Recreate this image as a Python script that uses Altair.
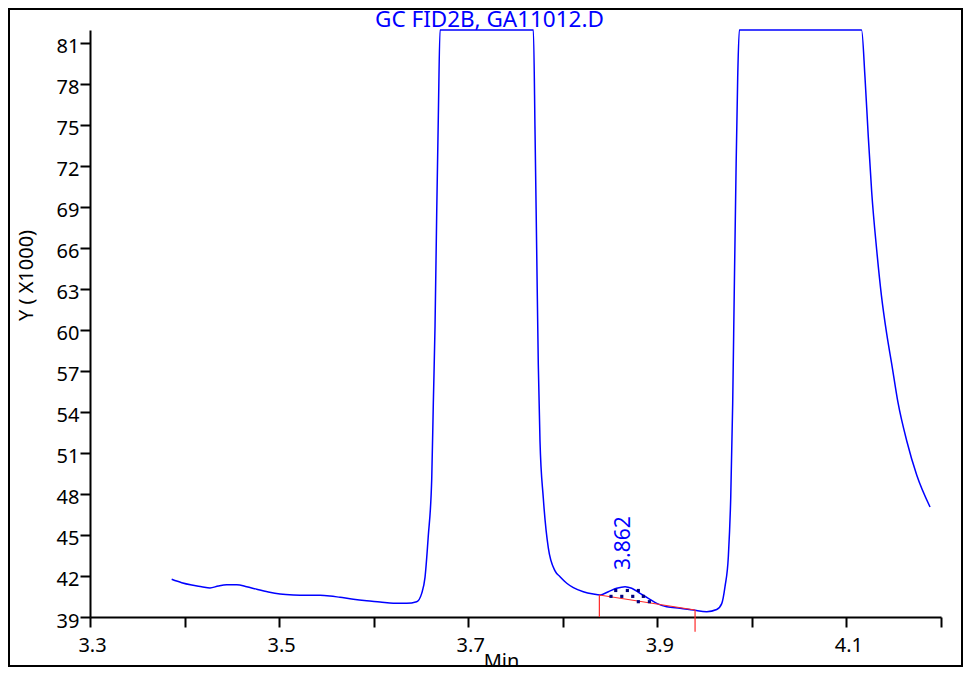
import altair as alt
import pandas as pd

# ---- data ----
trace_time = [3.3864, 3.3970, 3.4076, 3.4181, 3.4269, 3.4357, 3.4446, 3.4552, 3.4657, 3.4763,
              3.4886, 3.5010, 3.5150, 3.5292, 3.5433, 3.5538, 3.5644, 3.5785, 3.5926, 3.6067,
              3.6208, 3.6349, 3.6455, 3.6508, 3.6543, 3.6577, 3.6614, 3.6631, 3.6649, 3.6667,
              3.6684, 3.6702, 3.7689, 3.7707, 3.7724, 3.7741, 3.7759, 3.7794, 3.7847, 3.7918,
              3.7971, 3.8042, 3.8112, 3.8217, 3.8323, 3.8394, 3.8482, 3.8570, 3.8659, 3.8729,
              3.8817, 3.8905, 3.8994, 3.9100, 3.9240, 3.9381, 3.9522, 3.9628, 3.9681, 3.9716,
              3.9751, 3.9776, 3.9797, 3.9814, 3.9832, 3.9850, 3.9867, 4.1160, 4.1196, 4.1230,
              4.1267, 4.1320, 4.1370, 4.1426, 4.1479, 4.1546, 4.1638, 4.1743, 4.1884]
trace_signal = [41.76, 41.51, 41.34, 41.22, 41.12, 41.27, 41.36, 41.36, 41.22, 41.03,
                40.83, 40.68, 40.61, 40.59, 40.59, 40.54, 40.44, 40.30, 40.19, 40.10,
                40.00, 40.00, 40.12, 40.73, 41.90, 44.87, 49.09, 54.68, 60.29, 68.71,
                75.68, 81.95, 81.95, 74.30, 65.89, 57.52, 51.88, 47.71, 44.05, 42.37,
                41.95, 41.47, 41.15, 40.85, 40.68, 40.61, 40.85, 41.10, 41.22, 41.10,
                40.73, 40.37, 40.00, 39.75, 39.64, 39.51, 39.39, 39.55, 39.98, 41.24,
                43.43, 47.67, 54.62, 63.04, 71.50, 78.50, 81.95, 81.95, 78.51, 74.27,
                70.10, 65.85, 62.52, 59.71, 57.51, 54.66, 51.88, 49.39, 47.05]

baseline_time = [3.8387, 3.9399]
baseline_signal = [40.61, 39.51]
marker_bottom = [39.0, 37.92]

fill_dot_time = [3.8560, 3.8683, 3.8799, 3.8510, 3.8624, 3.8740, 3.8852, 3.8799, 3.8916]
fill_dot_signal = [40.94, 40.94, 40.94, 40.51, 40.51, 40.51, 40.51, 40.12, 40.12]

peak_label_time = [3.862]
peak_label_signal = [42.44]
peak_label_text = ["3.862"]

x_tick_values = [3.3, 3.4, 3.5, 3.6, 3.7, 3.8, 3.9, 4.0, 4.1, 4.2]
x_tick_labels = ["3.3", "3.5", "3.7", "3.9", "4.1"]
y_tick_values = [39, 42, 45, 48, 51, 54, 57, 60, 63, 66, 69, 72, 75, 78, 81]

chart_title = "GC FID2B, GA11012.D"
x_title = "Min"
y_title = "Y ( X1000)"

# ---- chart ----
W, H = 851, 587
FONT = "Noto Sans"
BLUE = "#0000FF"
RED = "#FF2A2A"

trace = pd.DataFrame({"t": trace_time, "s": trace_signal})
base = pd.DataFrame({"t": baseline_time, "s": baseline_signal})
markers = pd.DataFrame({"t": baseline_time, "s": baseline_signal, "b": marker_bottom})
dots = pd.DataFrame({"t": fill_dot_time, "s": fill_dot_signal})
lab = pd.DataFrame({"t": peak_label_time, "s": peak_label_signal, "txt": peak_label_text})
frame = pd.DataFrame({"k": [0]})
ttl = pd.DataFrame({"txt": [chart_title]})

label_list = "[" + ",".join("'" + v + "'" for v in x_tick_labels) + "]"
x_label_expr = ("indexof(" + label_list + ", format(datum.value, '.1f')) >= 0 ? "
                "format(datum.value, '.1f') : ''")

xscale = alt.Scale(domain=[3.3, 4.2], nice=False, zero=False)
yscale = alt.Scale(domain=[39, 81.95], nice=False, zero=False)

x_axis = alt.Axis(values=x_tick_values, labelExpr=x_label_expr, grid=False,
                  domainColor="black", domainWidth=2, tickColor="black", tickWidth=2,
                  tickSize=10, labelFont=FONT, labelFontSize=20, labelColor="black",
                  labelPadding=8, labelOffset=2, labelFlush=False, labelOverlap=False,
                  title=x_title, titleFont=FONT, titleFontSize=20, titleFontWeight="normal",
                  titleColor="black", titleX=411, titleY=34, titleBaseline="top",
                  titleAlign="center")
y_axis = alt.Axis(values=y_tick_values, grid=False,
                  domainColor="black", domainWidth=2, tickColor="black", tickWidth=2,
                  tickSize=10, labelFont=FONT, labelFontSize=20, labelColor="black",
                  labelPadding=1, labelOffset=4, labelFlush=False, labelOverlap=False,
                  title=y_title, titleFont=FONT, titleFontSize=20, titleFontWeight="normal",
                  titleColor="black", titleX=-64, titleY=245, titleAngle=270,
                  titleAlign="center", titleBaseline="middle")

line = alt.Chart(trace).mark_line(color=BLUE, strokeWidth=1.5, interpolate="monotone").encode(
    x=alt.X("t:Q", scale=xscale, axis=x_axis),
    y=alt.Y("s:Q", scale=yscale, axis=y_axis),
)
bl = alt.Chart(base).mark_line(color=RED, strokeWidth=1.2).encode(
    x=alt.X("t:Q", scale=xscale), y=alt.Y("s:Q", scale=yscale))
mk = alt.Chart(markers).mark_rule(color=RED, strokeWidth=1.2).encode(
    x=alt.X("t:Q", scale=xscale), y=alt.Y("s:Q", scale=yscale), y2="b:Q")
dt = alt.Chart(dots).mark_square(size=10, color="#000080", opacity=1).encode(
    x=alt.X("t:Q", scale=xscale), y=alt.Y("s:Q", scale=yscale))
tx = alt.Chart(lab).mark_text(angle=270, align="left", baseline="middle", fontSize=21,
                              font=FONT, color=BLUE, dy=3).encode(
    x=alt.X("t:Q", scale=xscale), y=alt.Y("s:Q", scale=yscale), text="txt:N")
fr = alt.Chart(frame).mark_rect(fillOpacity=0, stroke="black", strokeWidth=2).encode(
    x=alt.value(-81), x2=alt.value(W + 21), y=alt.value(-21), y2=alt.value(H + 49))
tt = alt.Chart(ttl).mark_text(align="center", baseline="alphabetic", fontSize=22.5,
                              font=FONT, color=BLUE).encode(
    x=alt.value(399.5), y=alt.value(-3), text="txt:N")

chart = alt.layer(fr, line, bl, mk, dt, tx, tt).properties(
    width=W, height=H,
    autosize=alt.AutoSizeParams(type="none"),
    padding={"left": 82, "top": 22, "right": 22, "bottom": 50},
).configure_view(stroke=None)

chart.save("out.html", embed_options={"renderer": "svg", "actions": False})
